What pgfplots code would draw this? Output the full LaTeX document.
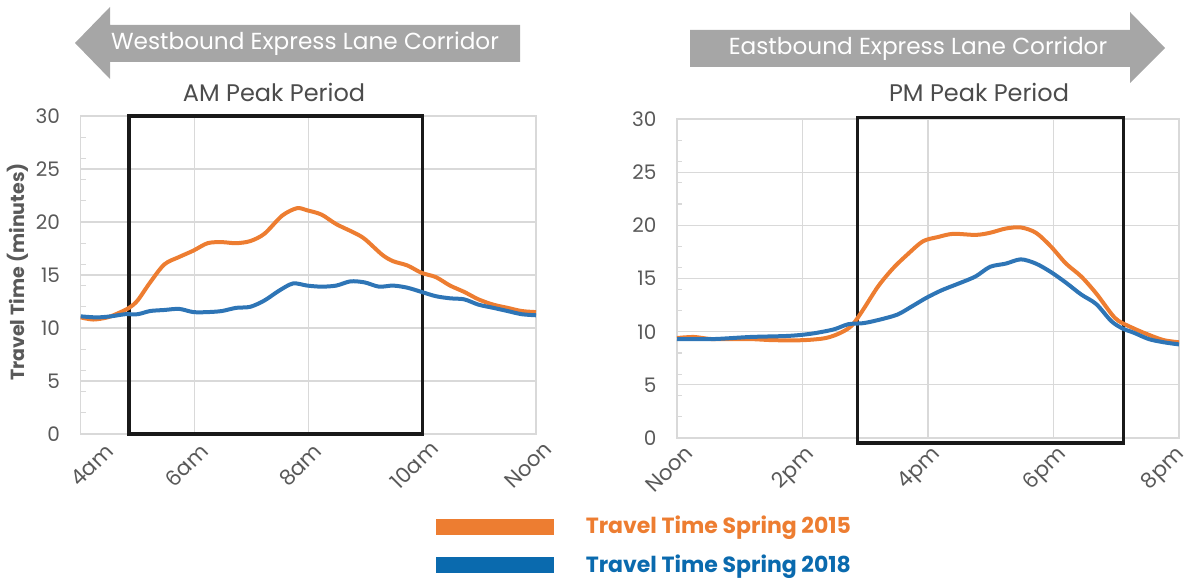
\documentclass[border=0pt]{standalone}
\usepackage{fontspec}
\setmainfont{Poppins}
\usepackage{pgfplots}
\pgfplotsset{compat=1.18}
\definecolor{cor}{HTML}{ED7D31}
\definecolor{cbl}{HTML}{2E75B6}
\definecolor{cbleg}{HTML}{0A6AAE}
\definecolor{gtxt}{HTML}{595959}
\definecolor{ggrid}{HTML}{D9D9D9}
\definecolor{garrow}{HTML}{A6A6A6}

\pgfplotsset{panel/.style={
  scale only axis, clip=false,
  ymin=0, ymax=30, ytick={0,5,...,30},
  minor ytick={2,4,...,28},
  grid=major, major grid style={ggrid, line width=0.6pt},
  axis line style={ggrid, line width=0.6pt},
  major tick length=0pt, minor tick length=2.5pt,
  tick align=inside, minor tick style={ggrid, line width=0.6pt},
  xtick pos=bottom, ytick pos=left,
  tick label style={font=\fontsize{10}{12}\selectfont, text=gtxt},
  /pgf/number format/assume math mode=true,
  xticklabel style={font=\fontsize{10.6}{12}\selectfont, xshift=-4pt, yshift=-15.5pt, rotate=45, anchor=center},
  yticklabel style={xshift=-6.8pt},
}}

\begin{document}
\begin{tikzpicture}[x=0.5pt, y=-0.5pt]
\path[use as bounding box] (0,0) rectangle (1189,581);

% direction arrows
\fill[garrow] (75,43) -- (110,7) -- (110,25) -- (520,25) -- (520,62) -- (110,62) -- (110,79) -- cycle;
\node[text=white, font=\fontsize{11.6}{13}\selectfont] at (305,44) {Westbound Express Lane Corridor};
\fill[garrow] (690,30) -- (1130,30) -- (1130,12) -- (1165,48) -- (1130,83) -- (1130,67) -- (690,67) -- cycle;
\node[text=white, font=\fontsize{11.6}{13}\selectfont] at (918,49) {Eastbound Express Lane Corridor};
\node[text=gtxt!85!black, font=\fontsize{12}{13}\selectfont] at (274,92) {AM Peak Period};
\node[text=gtxt!85!black, font=\fontsize{12}{13}\selectfont] at (979,92) {PM Peak Period};

\begin{axis}[panel,
  at={(40.35pt,-217pt)}, anchor=south west,
  width=227.65pt, height=159pt,
  xmin=4, xmax=12, xtick={6,8,10,12},
  xticklabels={6am,8am,10am,Noon},
  extra x ticks={4}, extra x tick labels={4am},
  extra x tick style={grid=major, xticklabel style={xshift=6.7pt, yshift=-6.7pt}},
  ylabel={\bfseries Travel Time (minutes)},
  ylabel style={at={(axis description cs:-0.1377,0.509)}, anchor=center, text=gtxt, font=\fontsize{9.5}{11}\selectfont},
  legend style={draw=none, fill=none, at={(0.7804,-0.3514)}, anchor=west,
    inner sep=0pt, outer sep=0pt, row sep=9pt,
    nodes={inner sep=0pt, anchor=west, font=\fontsize{11}{13}\selectfont\bfseries},
    /tikz/every odd column/.append style={column sep=16pt}},
]
\draw[black!90, line width=1.6pt] (axis cs:4.85,0) rectangle (axis cs:10,30);
\addplot[cor, line width=2pt, smooth, forget plot] coordinates {
(4,11.0) (4.22,10.8) (4.47,11.0) (4.66,11.4) (4.85,11.9) (5.0,12.6) (5.22,14.3) (5.47,16.0) (5.73,16.7) (5.98,17.3) (6.23,18.0) (6.48,18.1) (6.73,18.0) (6.98,18.2) (7.23,18.9) (7.54,20.6) (7.80,21.3) (7.98,21.1) (8.23,20.7) (8.49,19.8) (8.80,19.0) (8.99,18.4) (9.30,16.9) (9.49,16.3) (9.74,15.9) (9.99,15.2) (10.24,14.8) (10.49,14.0) (10.74,13.4) (10.99,12.7) (11.25,12.2) (11.50,11.9) (11.75,11.6) (12,11.5)
};
\addplot[cbl, line width=2pt, smooth, forget plot] coordinates {
(4,11.1) (4.28,11.0) (4.53,11.1) (4.78,11.3) (5.0,11.3) (5.22,11.6) (5.47,11.7) (5.73,11.8) (5.98,11.5) (6.23,11.5) (6.48,11.6) (6.73,11.9) (6.98,12.0) (7.23,12.6) (7.48,13.5) (7.73,14.2) (7.98,14.0) (8.23,13.9) (8.49,14.0) (8.74,14.4) (8.99,14.3) (9.24,13.9) (9.49,14.0) (9.74,13.8) (9.99,13.4) (10.24,13.0) (10.49,12.8) (10.74,12.7) (10.99,12.2) (11.25,11.9) (11.50,11.6) (11.75,11.3) (12,11.2)
};
\addlegendimage{legend image code/.code={\fill[cor] (0pt,-3.75pt) rectangle (58.5pt,3.75pt);}}
\addlegendentry{\textcolor{cor}{Travel Time Spring 2015}}
\addlegendimage{legend image code/.code={\fill[cbleg] (0pt,-3.75pt) rectangle (58.5pt,3.75pt);}}
\addlegendentry{\textcolor{cbleg}{Travel Time Spring 2018}}
\end{axis}

\begin{axis}[panel,
  at={(338.5pt,-219pt)}, anchor=south west,
  width=251pt, height=159.5pt,
  xmin=12, xmax=20, xtick={12,14,16,18},
  xticklabels={Noon,2pm,4pm,6pm},
  extra x ticks={20}, extra x tick labels={8pm},
  extra x tick style={grid=major, xticklabel style={xshift=-2.5pt, yshift=2.5pt}},
]
\draw[black!90, line width=1.6pt] (axis cs:14.88,-0.47) rectangle (axis cs:19.11,30.15);
\addplot[cor, line width=2pt, smooth] coordinates {
(12,9.4) (12.27,9.5) (12.57,9.3) (13.17,9.3) (13.53,9.2) (14.01,9.2) (14.37,9.4) (14.61,9.9) (14.79,10.6) (14.97,12.1) (15.21,14.3) (15.45,16.0) (15.68,17.3) (15.92,18.5) (16.16,18.9) (16.40,19.2) (16.76,19.1) (16.99,19.3) (17.24,19.7) (17.48,19.8) (17.72,19.3) (17.96,18.0) (18.20,16.4) (18.44,15.2) (18.68,13.6) (18.92,11.7) (19.04,11.0) (19.28,10.3) (19.52,9.7) (19.76,9.2) (20,9.0)
};
\addplot[cbl, line width=2pt, smooth] coordinates {
(12,9.3) (12.57,9.3) (13.17,9.5) (13.77,9.6) (14.13,9.8) (14.49,10.2) (14.73,10.7) (14.97,10.8) (15.21,11.1) (15.51,11.6) (15.75,12.4) (15.98,13.2) (16.22,13.9) (16.52,14.6) (16.76,15.2) (16.99,16.1) (17.24,16.4) (17.48,16.8) (17.72,16.4) (17.96,15.6) (18.20,14.6) (18.44,13.5) (18.68,12.6) (18.92,11.0) (19.10,10.3) (19.28,9.9) (19.52,9.3) (19.76,9.0) (20,8.8)
};
\end{axis}
\end{tikzpicture}
\end{document}
